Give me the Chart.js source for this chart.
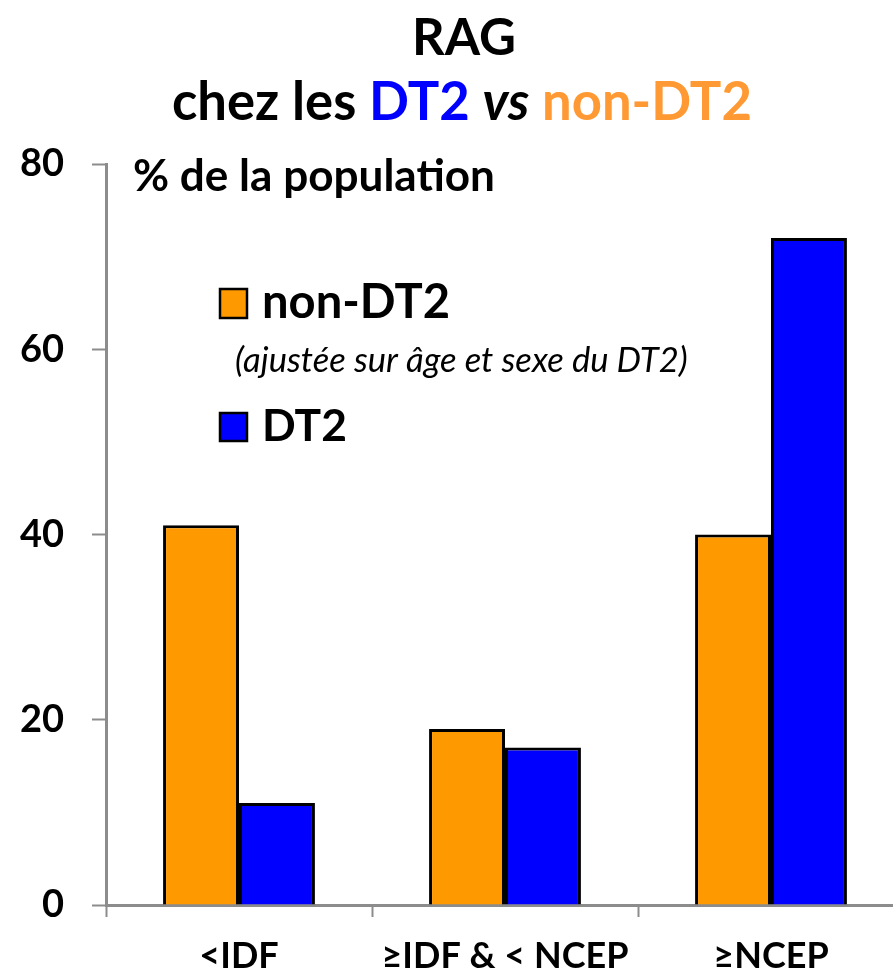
<!DOCTYPE html>
<html lang="fr">
<head>
<meta charset="utf-8">
<title>RAG chez les DT2 vs non-DT2</title>
<script src="https://cdn.jsdelivr.net/npm/chart.js@4"></script>
<style>
  html, body { margin: 0; padding: 0; background: #fff; overflow: hidden; }
  #wrap { width: 910px; height: 972px; }
</style>
</head>
<body>
<div id="wrap"><canvas id="ragChart" width="910" height="972"></canvas></div>
<script>
// ---- données du graphique ----
const categories = ['<IDF', '≥IDF & < NCEP', '≥NCEP'];
const nonDT2Values = [41, 19, 40];
const dt2Values = [11, 17, 72];
const yTicks = [0, 20, 40, 60, 80];
const seriesNames = ['non-DT2', 'DT2'];
const legendNote = '(ajustée sur âge et sexe du DT2)';
const yAxisTitle = '% de la population';

const ORANGE = '#FF9900';
const BLUE = '#0000FF';
const TITLE_ORANGE = '#FF9933';
const AXIS_GREY = '#8c8c8c';
const FONT = 'Lato, "Open Sans", sans-serif';

// taille de police pour qu'un texte occupe une largeur donnée
function fitSize(ctx, style, text, width) {
    ctx.font = style + ' 50px ' + FONT;
    return 50 * width / ctx.measureText(text).width;
}

function drawFitted(ctx, text, x, y, width, style, color) {
    const size = fitSize(ctx, style, text, width);
    ctx.font = style + ' ' + size + 'px ' + FONT;
    ctx.fillStyle = color;
    ctx.textAlign = 'left';
    ctx.fillText(text, x, y);
}

// titre, légende et libellé de l'axe
const decorPlugin = {
    id: 'decor',
    afterDraw(chart) {
        const ctx = chart.ctx;
        ctx.save();
        ctx.textBaseline = 'alphabetic';

        drawFitted(ctx, 'RAG', 412, 55, 104, 'bold', '#000');

        // deuxième ligne du titre, en plusieurs couleurs
        const parts = [
            { t: 'chez les ', s: 'bold', c: '#000' },
            { t: 'DT2', s: 'bold', c: BLUE },
            { t: ' ', s: 'bold', c: '#000' },
            { t: 'vs', s: 'italic bold', c: '#000' },
            { t: ' ', s: 'bold', c: '#000' },
            { t: 'non-DT2', s: 'bold', c: TITLE_ORANGE }
        ];
        let total = 0;
        parts.forEach(p => {
            ctx.font = p.s + ' 50px ' + FONT;
            total += ctx.measureText(p.t).width;
        });
        const size = 50 * 580 / total;
        let x = 172;
        parts.forEach(p => {
            ctx.font = p.s + ' ' + size + 'px ' + FONT;
            ctx.fillStyle = p.c;
            ctx.fillText(p.t, x, 120);
            x += ctx.measureText(p.t).width;
        });

        drawFitted(ctx, yAxisTitle, 133, 191, 362, 'bold', '#000');

        // légende
        const colors = chart.data.datasets.map(d => d.backgroundColor);
        ctx.lineWidth = 2.5;
        ctx.strokeStyle = '#000';
        ctx.fillStyle = colors[0];
        ctx.fillRect(220, 289, 27, 29);
        ctx.strokeRect(220, 289, 27, 29);
        drawFitted(ctx, seriesNames[0], 262, 318, 188, 'bold', '#000');
        drawFitted(ctx, legendNote, 235, 372, 453, 'italic', '#000');
        ctx.fillStyle = colors[1];
        ctx.fillRect(220, 413, 27, 28);
        ctx.strokeRect(220, 413, 27, 28);
        drawFitted(ctx, seriesNames[1], 262, 441, 85, 'bold', '#000');

        ctx.restore();
    }
};

new Chart(document.getElementById('ragChart'), {
    type: 'bar',
    data: {
        labels: categories,
        datasets: [
            {
                label: seriesNames[0],
                data: nonDT2Values,
                backgroundColor: ORANGE,
                borderColor: '#000',
                borderWidth: 3
            },
            {
                label: seriesNames[1],
                data: dt2Values,
                backgroundColor: BLUE,
                borderColor: '#000',
                borderWidth: 3
            }
        ]
    },
    options: {
        responsive: false,
        animation: false,
        devicePixelRatio: 1,
        layout: { padding: { top: 164, right: 6, bottom: 0, left: 0 } },
        datasets: { bar: { categoryPercentage: 0.571, barPercentage: 1.0 } },
        plugins: {
            legend: { display: false },
            title: { display: false },
            tooltip: { enabled: false }
        },
        scales: {
            x: {
                z: 1,
                grid: {
                    offset: true,
                    drawOnChartArea: false,
                    drawTicks: true,
                    tickLength: 12,
                    tickWidth: 2,
                    tickColor: AXIS_GREY
                },
                border: { color: AXIS_GREY, width: 3 },
                ticks: {
                    color: '#000',
                    padding: 18,
                    maxRotation: 0,
                    font: { family: FONT, size: 36, weight: 'bold' }
                },
                afterFit(scale) { scale.height = 67; }
            },
            y: {
                min: 0,
                max: 80,
                afterBuildTicks(scale) {
                    scale.ticks = yTicks.map(v => ({ value: v }));
                },
                grid: {
                    drawOnChartArea: false,
                    drawTicks: true,
                    tickLength: 14,
                    tickWidth: 2,
                    tickColor: AXIS_GREY
                },
                border: { color: AXIS_GREY, width: 3 },
                ticks: {
                    color: '#000',
                    padding: 28,
                    font: { family: FONT, size: 38, weight: 'bold' }
                },
                afterFit(scale) { scale.width = 106; }
            }
        }
    },
    plugins: [decorPlugin]
});
</script>
</body>
</html>
